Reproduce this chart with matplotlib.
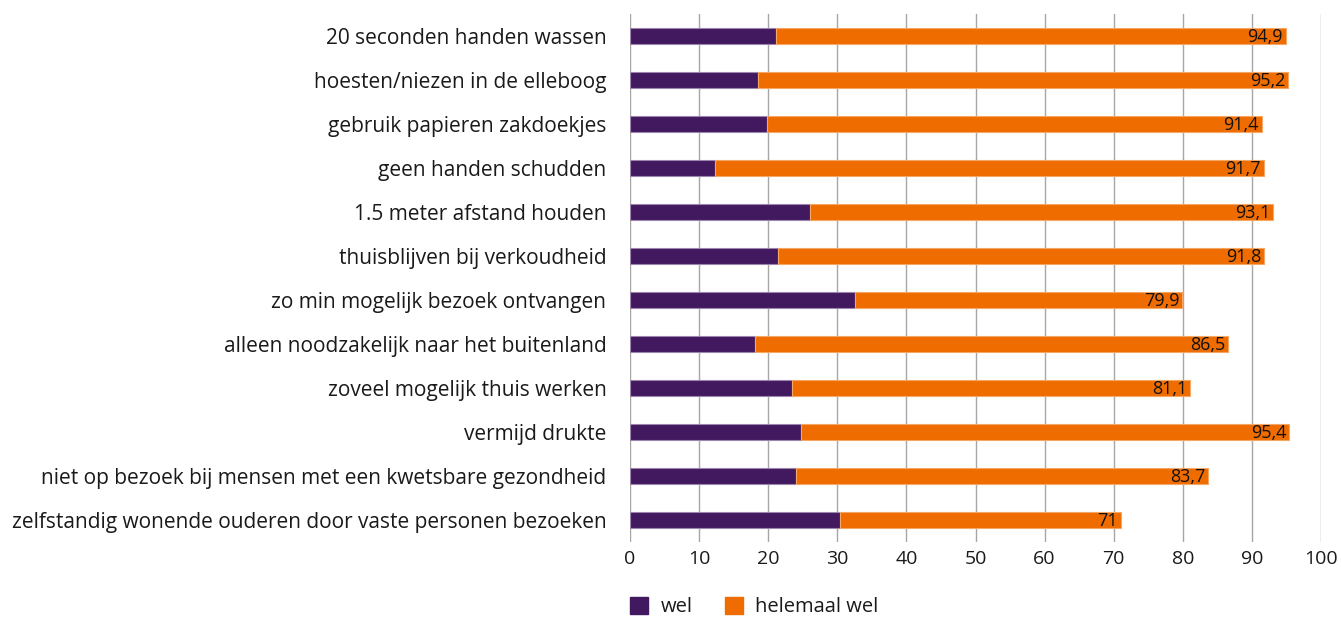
import matplotlib
matplotlib.use("Agg")
import matplotlib.pyplot as plt
from matplotlib.patches import Patch

categories = [
    "20 seconden handen wassen",
    "hoesten/niezen in de elleboog",
    "gebruik papieren zakdoekjes",
    "geen handen schudden",
    "1.5 meter afstand houden",
    "thuisblijven bij verkoudheid",
    "zo min mogelijk bezoek ontvangen",
    "alleen noodzakelijk naar het buitenland",
    "zoveel mogelijk thuis werken",
    "vermijd drukte",
    "niet op bezoek bij mensen met een kwetsbare gezondheid",
    "zelfstandig wonende ouderen door vaste personen bezoeken",
]
wel = [21.1, 18.5, 19.8, 12.3, 26.0, 21.4, 32.6, 18.1, 23.4, 24.7, 24.0, 30.4]
totaal = [94.9, 95.2, 91.4, 91.7, 93.1, 91.8, 79.9, 86.5, 81.1, 95.4, 83.7, 71.0]
totaal_labels = ["94,9", "95,2", "91,4", "91,7", "93,1", "91,8", "79,9", "86,5", "81,1", "95,4", "83,7", "71"]
helemaal_wel = [t - w for t, w in zip(totaal, wel)]
xticks = list(range(0, 101, 10))

PURPLE = "#42195f"
ORANGE = "#ef6c00"
TXT = "#1a1a1a"
plt.rcParams['font.family'] = ['Open Sans', 'DejaVu Sans']

fig = plt.figure(figsize=(13.41, 6.18), dpi=100)
ax = fig.add_axes([630/1341, 1 - 542/618, (1321-630)/1341, (542-14)/618])

y = list(range(len(categories)))
h = 0.37
ax.barh(y, wel, height=h, color=PURPLE, edgecolor="#9c86ad", linewidth=0.8, zorder=3)
ax.barh(y, helemaal_wel, left=wel, height=h, color=ORANGE, edgecolor="#f5a766", linewidth=0.8, zorder=3)
for yi, t, lab in zip(y, totaal, totaal_labels):
    ax.text(t - 0.4, yi + 0.03, lab, ha="right", va="center", fontsize=13, color="#111111", zorder=4)

ax.set_ylim(len(categories) - 0.5, -0.5)
ax.set_xlim(0, 100)
ax.set_xticks(xticks)
ax.set_xticklabels([str(v) for v in xticks], fontsize=14, color=TXT)
ax.tick_params(axis="both", length=0)
ax.set_yticks(y)
ax.set_yticklabels(categories, fontsize=15, color=TXT)
ax.tick_params(axis="y", pad=17)
ax.tick_params(axis="x", pad=6)
ax.grid(axis="x", color="#a6a6a6", linewidth=1, zorder=0)
for s in ax.spines.values():
    s.set_visible(False)

handles = [Patch(color=PURPLE, label="wel"), Patch(color=ORANGE, label="helemaal wel")]
fig.legend(handles=handles, loc="center left", bbox_to_anchor=(612/1341, 1 - 607/618), ncol=2,
           frameon=False, fontsize=14.5, handlelength=0.9, handleheight=0.9, columnspacing=1.6,
           handletextpad=0.6, labelcolor=TXT)

fig.savefig("out.png", dpi=100)
